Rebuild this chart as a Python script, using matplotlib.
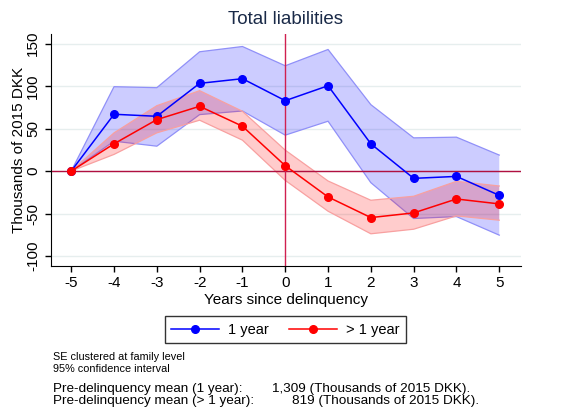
import matplotlib.pyplot as plt
import numpy as np

plt.rcParams['font.family'] = ['Liberation Sans', 'DejaVu Sans']

# Years relative to delinquency
years = [-5, -4, -3, -2, -1, 0, 1, 2, 3, 4, 5]

# 1 year group
one_mean = [0, 66.9, 64.5, 103.3, 108.8, 82.9, 100.5, 32.1, -8.6, -6.3, -28.6]
one_hi = [0, 99.4, 98.2, 140.5, 146.7, 124.0, 143.2, 78.2, 39.1, 39.9, 18.8]
one_lo = [0, 35.2, 29.3, 66.5, 70.8, 42.3, 58.7, -13.7, -55.9, -53.6, -75.5]

# > 1 year group
more_mean = [0, 32.1, 60.6, 76.3, 52.8, 6.3, -30.5, -54.8, -49.3, -32.9, -38.7]
more_hi = [0, 45.0, 77.0, 94.7, 70.4, 24.6, -11.7, -34.4, -29.7, -12.1, -17.6]
more_lo = [0, 19.6, 45.0, 59.9, 36.4, -11.0, -47.3, -73.9, -68.5, -52.8, -57.9]

yticks = [-100, -50, 0, 50, 100, 150]

fig = plt.figure(figsize=(5.86, 4.17), dpi=100)
ax = fig.add_axes([0.0865, 0.3628, 0.802, 0.556])

# grid
for t in yticks:
    ax.axhline(t, color='#e6eeee', lw=1, zorder=0)

# confidence bands
ax.fill_between(years, one_lo, one_hi, facecolor='#0000ff', alpha=0.2,
                edgecolor='none', zorder=1)
ax.plot(years, one_hi, color='#9090f8', lw=0.9, zorder=1)
ax.plot(years, one_lo, color='#9090f8', lw=0.9, zorder=1)
ax.fill_between(years, more_lo, more_hi, facecolor='#ff0000', alpha=0.2,
                edgecolor='none', zorder=1)
ax.plot(years, more_hi, color='#f8a0a0', lw=0.9, zorder=1)
ax.plot(years, more_lo, color='#f8a0a0', lw=0.9, zorder=1)

# reference lines
ax.axhline(0, color='#b01040', lw=1, zorder=2)
ax.axvline(0, color='#d02050', lw=1, zorder=2)

l1, = ax.plot(years, one_mean, color='#0000ff', marker='o', ms=5.5, lw=1.1,
              zorder=3, label='1 year')
l2, = ax.plot(years, more_mean, color='#ff0000', marker='o', ms=5.5, lw=1.1,
              zorder=3, label='> 1 year')

ax.set_xlim(-5.48, 5.5)
ax.set_ylim(-111.5, 161.6)
ax.set_xticks(years)
ax.set_xticklabels([str(y) for y in years])
ax.set_yticks(yticks)
ax.set_yticklabels([str(t) for t in yticks], rotation=90, va='center')
ax.tick_params(labelsize=11, length=4, width=1)
for s in ['top', 'right']:
    ax.spines[s].set_visible(False)

ax.set_title('Total liabilities', fontsize=13.5, color='#1a2a48', pad=7)
ax.set_xlabel('Years since delinquency', fontsize=11, labelpad=2)
ax.set_ylabel('Thousands of 2015 DKK', fontsize=11, labelpad=0)

fig.legend(handles=[l1, l2], loc='center', bbox_to_anchor=(0.487, 0.209),
           ncol=2, fontsize=10.5, frameon=True, fancybox=False,
           edgecolor='black', handlelength=3.3, handletextpad=0.6,
           columnspacing=1.4, borderpad=0.45)

fig.text(0.09, 0.137, 'SE clustered at family level', fontsize=7.8)
fig.text(0.09, 0.108, '95% confidence interval', fontsize=7.8)
fig.text(0.09, 0.06, 'Pre-delinquency mean (1 year):', fontsize=9.7)
fig.text(0.465, 0.06, '1,309 (Thousands of 2015 DKK).', fontsize=9.7)
fig.text(0.09, 0.03, 'Pre-delinquency mean (> 1 year):', fontsize=9.7)
fig.text(0.498, 0.03, '819 (Thousands of 2015 DKK).', fontsize=9.7)

fig.savefig('out.png', dpi=100)
